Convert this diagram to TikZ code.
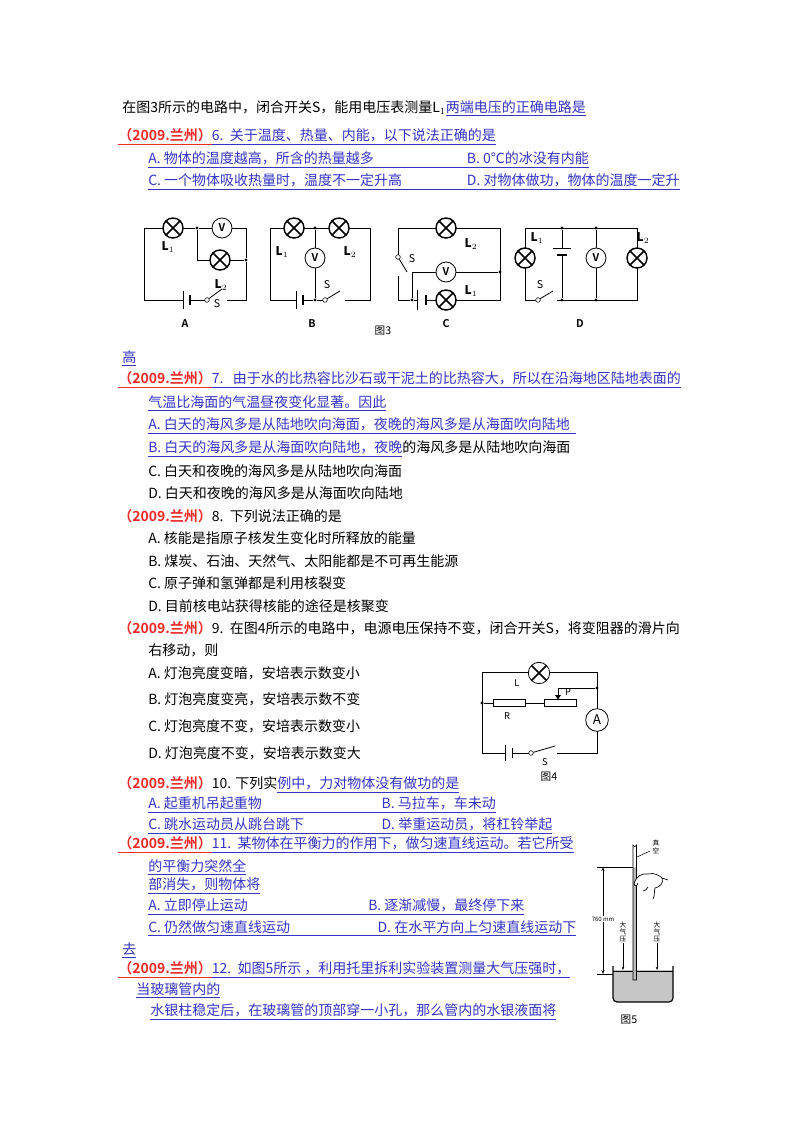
\documentclass[tikz,border=0pt]{standalone}
\usepackage{fontspec}
\setmainfont{Noto Sans CJK SC}[BoldFont={Noto Sans CJK SC Bold}]
\usetikzlibrary{arrows.meta}
\definecolor{qblue}{HTML}{3434C8}
\definecolor{qred}{HTML}{F02828}
\newcommand{\bu}[1]{{\color{qblue}\underline{#1}}}
\newcommand{\ru}[1]{{\color{qred}\underline{\bfseries #1}}}
\newcommand{\rl}{{\color{qred}\bfseries（2009.兰州）}}
\begin{document}
\begin{tikzpicture}[x=0.75pt,y=-0.75pt,
  tx/.style={anchor=west,inner sep=0pt,font=\fontsize{10.5}{12}\selectfont},
  lbl/.style={inner sep=0pt,font=\fontsize{9}{10}\selectfont\bfseries},
  sl/.style={inner sep=0pt,font=\fontsize{8}{9}\selectfont},
  wire/.style={line width=0.6pt},
  lamp/.style={circle,draw,line width=1.1pt,minimum size=15pt,inner sep=0pt,fill=white,
    path picture={\draw[line width=1.1pt] (path picture bounding box.north west)--(path picture bounding box.south east) (path picture bounding box.north east)--(path picture bounding box.south west);}},
  meter/.style={circle,draw,line width=0.6pt,minimum size=15pt,inner sep=0pt,fill=white,font=\fontsize{8}{9}\selectfont\bfseries},
  dot/.style={circle,fill,inner sep=0pt,minimum size=2.5pt},
  pivot/.style={circle,draw,fill=white,inner sep=0pt,minimum size=3.5pt}]
\useasboundingbox (0,0) rectangle (800,1132);
\fill[white] (0,0) rectangle (800,1132);
% ---------------- text
\node[tx] (t1) at (122,108) {在图3所示的电路中，闭合开关S，能用电压表测量L$_1$\bu{两端电压的正确电路是}};
\node[tx] (q6) at (118,137) {\ru{（2009.兰州）}\bu{6.\ \ 关于温度、热量、内能，以下说法正确的是}};
\node[tx] (q6a) at (148,160) {\bu{\makebox[239pt][l]{A. 物体的温度越高，所含的热量越多}B. 0℃的冰没有内能}};
\node[tx] (q6c) at (148,182) {\bu{\makebox[239pt][l]{C. 一个物体吸收热量时，温度不一定升高}D. 对物体做功，物体的温度一定升}};
\node[tx] (q6g) at (122,358) {\bu{高}};
\node[tx] (q7) at (118,380) {\ru{（2009.兰州）}\bu{7.\ \ \ 由于水的比热容比沙石或干泥土的比热容大，所以在沿海地区陆地表面的}};
\node[tx] (q7b) at (148,403) {\bu{气温比海面的气温昼夜变化显著。因此}};
\node[tx] (q7A) at (148,426) {\bu{A. 白天的海风多是从陆地吹向海面，夜晚的海风多是从海面吹向陆地\ \ }};
\node[tx] (q7B) at (148,449) {\bu{B. 白天的海风多是从海面吹向陆地，夜晚}的海风多是从陆地吹向海面};
\node[tx] (q7C) at (148,471) {C. 白天和夜晚的海风多是从陆地吹向海面};
\node[tx] (q7D) at (148,493) {D. 白天和夜晚的海风多是从海面吹向陆地};
\node[tx] (q8) at (118,516) {\rl 8.\ \ 下列说法正确的是};
\node[tx] (q8A) at (148,538) {A. 核能是指原子核发生变化时所释放的能量};
\node[tx] (q8B) at (148,561) {B. 煤炭、石油、天然气、太阳能都是不可再生能源};
\node[tx] (q8C) at (148,583) {C. 原子弹和氢弹都是利用核裂变};
\node[tx] (q8D) at (148,606) {D. 目前核电站获得核能的途径是核聚变};
\node[tx] (q9) at (118,628) {\rl 9.\ \ 在图4所示的电路中，电源电压保持不变，闭合开关S，将变阻器的滑片向};
\node[tx] (q9b) at (148,650) {右移动，则};
\node[tx] (q9A) at (148,673) {A. 灯泡亮度变暗，安培表示数变小};
\node[tx] (q9B) at (148,699) {B. 灯泡亮度变亮，安培表示数不变};
\node[tx] (q9C) at (148,726) {C. 灯泡亮度不变，安培表示数变小};
\node[tx] (q9D) at (148,753) {D. 灯泡亮度不变，安培表示数变大};
\node[tx] (q10) at (118,785) {\rl 10. 下列实\bu{例中，力对物体没有做功的是}};
\node[tx] (q10A) at (148,805) {\bu{\makebox[175pt][l]{A. 起重机吊起重物}B. 马拉车，车未动}};
\node[tx] (q10C) at (148,826) {\bu{\makebox[175pt][l]{C. 跳水运动员从跳台跳下}D. 举重运动员，将杠铃举起}};
\node[tx] (q11) at (118,845) {\ru{（2009.兰州）}\bu{11.\ \ 某物体在平衡力的作用下，做匀速直线运动。若它所受}};
\node[tx] (q11b) at (148,867) {\bu{的平衡力突然全}};
\node[tx] (q11c) at (148,886) {\bu{部消失，则物体将}};
\node[tx] (q11A) at (148,907) {\bu{\makebox[165pt][l]{A. 立即停止运动}B. 逐渐减慢，最终停下来}};
\node[tx] (q11C) at (148,928) {\bu{\makebox[172pt][l]{C. 仍然做匀速直线运动}D. 在水平方向上匀速直线运动下}};
\node[tx] (q11g) at (122,950) {\bu{去}};
\node[tx] (q12) at (118,970) {\ru{（2009.兰州）}\bu{12.\ \ 如图5所示 ，利用托里拆利实验装置测量大气压强时，}};
\node[tx] (q12b) at (136,990) {\bu{当玻璃管内的}};
\node[tx] (q12c) at (150,1012) {\bu{水银柱稳定后，在玻璃管的顶部穿一小孔，那么管内的水银液面将}};
% ---------------- Figure 3 A
\coordinate (a1) at (144,228); \coordinate (a2) at (246,228);
\coordinate (a3) at (246,300); \coordinate (a4) at (144,300);
\node[dot] (aj1) at (197,228) {}; \node[dot] (aj2) at (246,260) {};
\coordinate (aj3) at (197,260);
\draw[wire] (aj2)--(a3)--(227,300) (207,300)--(190,300) (183,300)--(a4)--(a1)--(aj1)--(a2)--(aj2)--(aj3)--(aj1);
\draw[line width=0.6pt] (183,291)--(183,309); \draw[line width=1.4pt] (190,295)--(190,305);
\node[pivot] (asw) at (207,300) {}; \draw[wire] (asw)--(222,289);
\node[lamp] (aL1) at (173,228) {}; \node[meter] (aV) at (222,228) {V}; \node[lamp] (aL2) at (220,260) {};
\node[lbl] at (168,247) {\textit{L}$_1$}; \node[lbl] at (221,285) {\textit{L}$_2$}; \node[sl] at (217,304) {S};
\node[sl,font=\fontsize{8}{9}\selectfont\bfseries] at (185,324) {A};
% B
\coordinate (b1) at (270,228); \coordinate (b2) at (370,228);
\coordinate (b3) at (370,300); \coordinate (b4) at (270,300);
\node[dot] (bj1) at (315,228) {}; \node[dot] (bj2) at (315,300) {};
\draw[wire] (b4)--(b1)--(b2)--(b3)--(345,300) (325,300)--(bj2)--(303,300) (296,300)--(b4) (bj1)--(bj2);
\draw[line width=0.6pt] (296,291)--(296,309); \draw[line width=1.4pt] (303,295)--(303,305);
\node[pivot] (bsw) at (325,300) {}; \draw[wire] (bsw)--(340,291);
\node[lamp] (bL1) at (294,228) {}; \node[lamp] (bL2) at (339,228) {}; \node[meter] (bV) at (315,258) {V};
\node[lbl] at (282,252) {\textit{L}$_1$}; \node[lbl] at (350,252) {\textit{L}$_2$}; \node[sl] at (327,285) {S};
\node[sl,font=\fontsize{8}{9}\selectfont\bfseries] at (312,324) {B};
% C
\coordinate (c1) at (398,228); \coordinate (c2) at (500,228);
\coordinate (c3) at (500,300); \coordinate (c4) at (398,300);
\node[dot] (cj1) at (412,300) {}; \node[dot] (cj2) at (500,272) {}; \coordinate (cj3) at (412,272);
\draw[wire] (398,257)--(c1)--(c2)--(c3)--(426,300) (417,300)--(cj1)--(c4)--(398,276) (cj1)--(cj3)--(cj2);
\draw[line width=0.6pt] (417,290)--(417,310); \draw[line width=1.4pt] (426,295)--(426,305);
\node[pivot] (csw) at (398,257) {}; \draw[wire] (csw)--(407,272);
\node[lamp] (cL2) at (446,228) {}; \node[meter] (cV) at (446,272) {V}; \node[lamp] (cL1) at (446,300) {};
\node[lbl] at (471,244) {\textit{L}$_2$}; \node[lbl] at (471,291) {\textit{L}$_1$}; \node[sl] at (412,259) {S};
\node[sl,font=\fontsize{8}{9}\selectfont\bfseries] at (446,324) {C};
% D
\coordinate (d1) at (525,228); \coordinate (d2) at (637,228);
\coordinate (d3) at (637,300); \coordinate (d4) at (525,300);
\node[dot] (dj1) at (562,228) {}; \node[dot] (dj2) at (562,300) {};
\node[dot] (dj3) at (596,228) {}; \node[dot] (dj4) at (596,300) {};
\draw[wire] (538,300)--(d4)--(d1)--(d2)--(d3)--(557,300) (dj1)--(562,248) (562,255)--(dj2) (dj3)--(dj4);
\draw[line width=0.6pt] (553,248)--(571,248); \draw[line width=1.4pt] (557,255)--(567,255);
\node[pivot] (dsw) at (538,300) {}; \draw[wire] (dsw)--(553,291);
\node[lamp] (dL1) at (525,258) {}; \node[meter] (dV) at (596,258) {V}; \node[lamp] (dL2) at (637,258) {};
\node[lbl] at (537,238) {\textit{L}$_1$}; \node[lbl] at (643,238) {\textit{L}$_2$}; \node[sl] at (540,285) {S};
\node[sl,font=\fontsize{8}{9}\selectfont\bfseries] at (580,324) {D};
\node[sl] (f3) at (383,331) {图3};
% ---------------- Figure 4
\coordinate (e1) at (482,672); \coordinate (e2) at (597,672);
\coordinate (e3) at (597,753); \coordinate (e4) at (482,753);
\node[dot] (ej1) at (482,703) {}; \node[dot] (ej2) at (597,688) {};
\draw[wire] (e4)--(e1)--(e2)--(e3)--(557,753) (531,753)--(512,753) (505,753)--(e4);
\draw[wire] (ej1)--(493,703) (525,703)--(544,703) (ej2)--(558,688)--(558,696);
\fill (555,695)--(561,695)--(558,699.5)--cycle;
\draw[line width=0.6pt] (493,699.5) rectangle (525,706.5);
\draw[line width=0.6pt] (544,699.5) rectangle (576,706.5);
\draw[line width=0.6pt] (505,745)--(505,761); \draw[line width=0.6pt] (512,748)--(512,758);
\node[pivot] (esw) at (531,753) {}; \draw[wire] (esw)--(555,746);
\node[lamp,line width=0.6pt,minimum size=16pt] (eL) at (539,673) {};
\node[meter,minimum size=17pt,font=\fontsize{10}{10}\selectfont] (eA) at (597,720) {A};
\node[sl,font=\fontsize{7}{8}\selectfont\itshape] at (517,683) {L};
\node[sl,font=\fontsize{7}{8}\selectfont\itshape] at (568,692) {P};
\node[sl,font=\fontsize{7}{8}\selectfont\itshape] at (507,716) {R};
\node[sl,font=\fontsize{7}{8}\selectfont\itshape] at (545,762) {S};
\node[sl] (f4) at (549,777) {图4};
% ---------------- Figure 5
\fill[gray!45] (613,970) -- (613,998) to[out=-90,in=180] (617,1002) -- (669,1002) to[out=0,in=-90] (673,998) -- (673,970) -- cycle;
\draw[line width=0.9pt] (613,966)--(613,998) to[out=-90,in=180] (617,1002) -- (669,1002) to[out=0,in=-90] (673,998) -- (673,966);
\draw[line width=0.4pt] (613,971)--(673,971);
\fill[gray!55] (633,867) rectangle (636.5,980);
\draw[line width=0.5pt] (633,980)--(633,845) arc[start angle=180,end angle=0,radius=1.75] -- (636.5,980) -- cycle;
\draw[line width=0.4pt] (597,867)--(633,867) (597,974)--(613,974);
\draw[line width=0.5pt,{Stealth[length=3pt]}-{Stealth[length=3pt]}] (603,867)--(603,974);
\node[fill=white,inner sep=0.5pt,font=\fontsize{4.5}{5}\selectfont] (mm) at (603,919) {760 mm};
\draw[line width=0.4pt] (637,857)--(650,851);
\node[inner sep=0pt,font=\fontsize{5}{5.5}\selectfont,align=center] (zk) at (656,847) {真\\空};
\node[inner sep=0pt,font=\fontsize{5}{5.5}\selectfont,align=center] (q1) at (623,932) {大\\气\\压};
\node[inner sep=0pt,font=\fontsize{5}{5.5}\selectfont,align=center] (q2) at (657,932) {大\\气\\压};
\draw[line width=0.4pt,-{Stealth[length=2.5pt]}] (q1.south)--(623,970);
\draw[line width=0.4pt,-{Stealth[length=2.5pt]}] (q2.south)--(657,970);
% hand
\draw[line width=0.5pt,fill=white] (634,884) .. controls (636,876) and (642,873) .. (648,874)
  .. controls (654,872) and (660,876) .. (662,878) -- (668,880)
  (662,878) .. controls (664,883) and (660,887) .. (655,888)
  .. controls (654,891) and (655,896) .. (653,899)
  (648,887) .. controls (647,889) and (645,891) .. (643,891)
  (638,883) .. controls (637,886) and (635,887) .. (634,884);
\node[sl] (f5) at (629,1020) {图5};
\end{tikzpicture}
\end{document}
